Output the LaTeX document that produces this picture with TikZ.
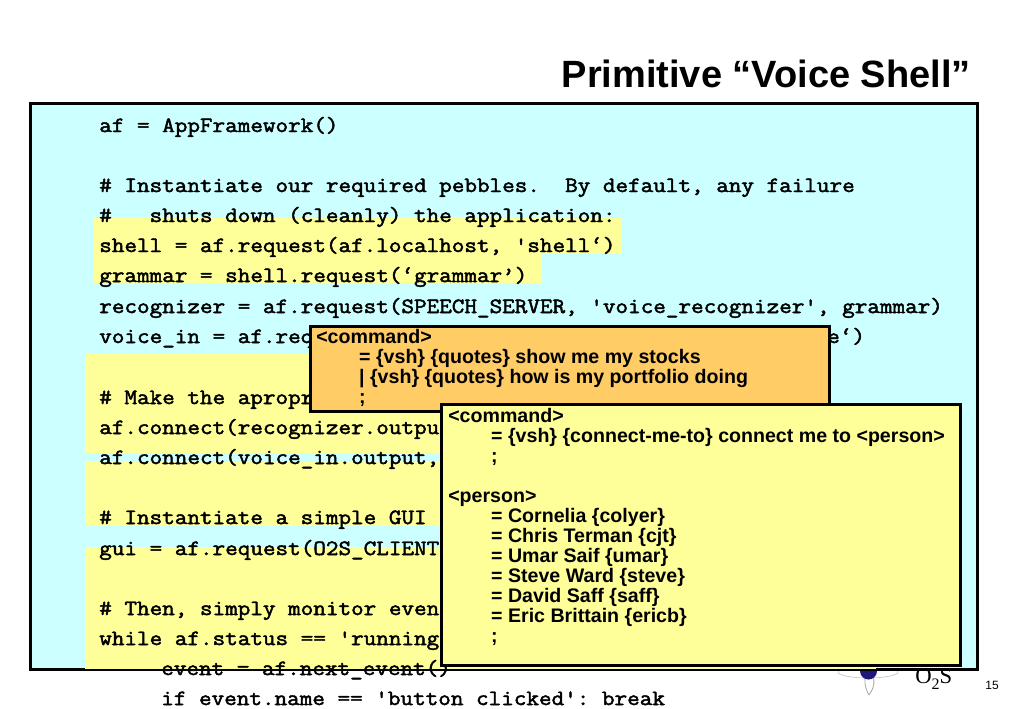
\documentclass[tikz,border=0pt]{standalone}
\usepackage{fontspec}
\setmainfont{Liberation Sans}
\newfontfamily\codefont[FakeStretch=1.125,FakeBold=2.2]{Latin Modern Mono}
\newfontfamily\serialfont{Liberation Serif}
\definecolor{framecyan}{RGB}{204,255,255}
\definecolor{markyellow}{RGB}{255,255,153}
\definecolor{boxorange}{RGB}{255,204,102}
\definecolor{logoblue}{RGB}{32,24,120}
\tikzset{
  codeline/.style={anchor=base west,inner sep=0pt,font=\codefont\frenchspacing\fontsize{16.3}{18}\selectfont},
  grammarbox/.style={draw=black,line width=2.25pt,anchor=north west,inner sep=0pt,outer sep=0pt},
  grammartext/.style={anchor=north west,inner sep=0pt,align=left,font=\frenchspacing\fontsize{14.7}{15}\bfseries},
  markbar/.style={fill=markyellow,draw=none}
}
\newcommand{\gind}{\hspace*{32.2pt}}
\begin{document}
\begin{tikzpicture}[x=0.75pt,y=0.75pt,yscale=-1,xscale=1]
\useasboundingbox (0,0) rectangle (1023,708);

%Logo behind the frame
\draw [gray!45,line width=0.5pt] (868,672) ellipse (30 and 6);
\draw [gray!70,line width=0.6pt] (869,695) .. controls (863,685) and (864,672) .. (869,672) .. controls (874,672) and (877,685) .. (869,695);
\fill [logoblue] (868.5,671) circle (8.5);
% Text Node
\node (brand) [anchor=base west,inner sep=0pt,font=\serialfont\fontsize{17}{20}\selectfont] at (915,683.5) {O\raisebox{-0.25em}{\fontsize{12}{12}\selectfont 2}S};

%Frame
\draw [fill=framecyan,line width=2.25pt] (30.5,103) rectangle (977,669);

%Yellow marks
\fill [markbar] (94,218) rectangle (621,254);
\fill [markbar] (94,254) rectangle (542,283);
\fill [markbar] (85,354) rectangle (450,453);
\fill [markbar] (85,461) rectangle (450,526);
\fill [markbar] (85,547) rectangle (876,668.5);

% Text Node
\node (title) [anchor=base east,inner sep=0pt,font=\fontsize{28.5}{30}\bfseries] at (971,87) {Primitive “Voice Shell”};
% Text Node
\node (pagenum) [anchor=base east,inner sep=0pt,font=\fontsize{9}{10}\selectfont] at (999,689) {15};

% Text Node
\node (lineapp) [codeline] at (99,132) {af = AppFramework()};
% Text Node
\node (linepebbles) [codeline] at (99,192) {\# Instantiate our required pebbles.\ \ By default, any failure};
% Text Node
\node (lineshuts) [codeline] at (99,222) {\#\ \ \ shuts down (cleanly) the application:};
% Text Node
\node (lineshell) [codeline] at (99,252) {shell = af.request(af.localhost, 'shell‘)};
% Text Node
\node (linegrammar) [codeline] at (99,282) {grammar = shell.request(‘grammar’)};
% Text Node
\node (linerecog) [codeline] at (99,313) {recognizer = af.request(SPEECH\_SERVER, 'voice\_recognizer', grammar)};
% Text Node
\node (linevoice) [codeline] at (99,343) {voice\_in = af.req};
% Text Node
\node (linevoiceend) [codeline] at (827,343) {e‘)};
% Text Node
\node (linemake) [codeline] at (99,404) {\# Make the apropr};
% Text Node
\node (lineconnecta) [codeline] at (99,434) {af.connect(recognizer.outpu};
% Text Node
\node (lineconnectb) [codeline] at (99,464) {af.connect(voice\_in.output,};
% Text Node
\node (linegui) [codeline] at (99,524) {\# Instantiate a simple GUI};
% Text Node
\node (linerequest) [codeline] at (99,555) {gui = af.request(O2S\_CLIENT\_};
% Text Node
\node (linemonitor) [codeline] at (99,615) {\# Then, simply monitor even};
% Text Node
\node (linewhile) [codeline] at (99,645) {while af.status == 'running};
% Text Node
\node (lineevent) [codeline] at (161,675) {event = af.next\_event()};
% Text Node
\node (linebreak) [codeline] at (161,705) {if event.name == 'button clicked': break};

%Orange grammar
\node (quotesbox) [grammarbox,fill=boxorange,minimum width=389.25pt,minimum height=63.75pt] at (310,326) {};
% Text Node
\node (quotestext) [grammartext] at (316,329) {<command>\\
\gind= \{vsh\} \{quotes\} show me my stocks\\
\gind| \{vsh\} \{quotes\} how is my portfolio doing\\
\gind;};

%Yellow grammar
\node (personbox) [grammarbox,fill=markyellow,minimum width=389.6pt,minimum height=195.75pt] at (441.5,404.5) {};
% Text Node
\node (persontext) [grammartext] at (448,408) {<command>\\
\gind= \{vsh\} \{connect-me-to\} connect me to <person>\\
\gind;\\
\\
<person>\\
\gind= Cornelia \{colyer\}\\
\gind= Chris Terman \{cjt\}\\
\gind= Umar Saif \{umar\}\\
\gind= Steve Ward \{steve\}\\
\gind= David Saff \{saff\}\\
\gind= Eric Brittain \{ericb\}\\
\gind;};

\end{tikzpicture}
\end{document}
